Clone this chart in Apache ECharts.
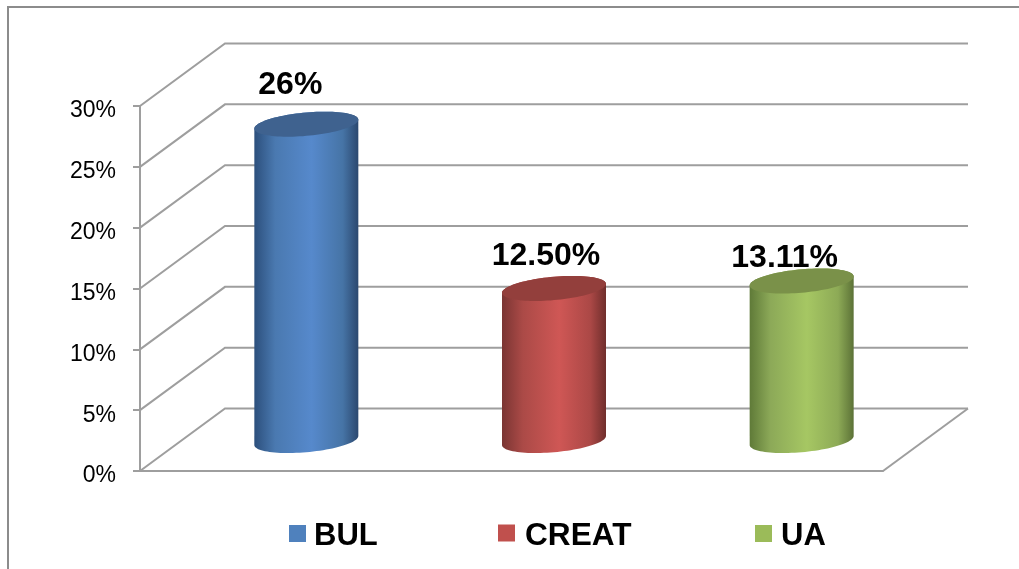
<!DOCTYPE html>
<html>
<head>
<meta charset="utf-8">
<style>html,body{margin:0;padding:0;background:#fff}#c{width:1019px;height:569px}</style>
<script src="https://cdn.jsdelivr.net/npm/echarts@6/dist/echarts.min.js"></script>
</head>
<body>
<div id="c"></div>
<script>
const categories = ['BUL', 'CREAT', 'UA'];
const values = [26, 12.5, 13.11];
const valueLabels = ['26%', '12.50%', '13.11%'];
const yTicks = [0, 5, 10, 15, 20, 25, 30];

const baseColors = ['#4f81bd', '#c0504d', '#9bbb59'];
const topColors = ['#3f628f', '#933f3c', '#7a9149'];
const sideStops = [
  ['#2c4f7c', '#4a79b0', '#5689cc', '#4674a6', '#2b486f'],
  ['#7a3533', '#ab4a47', '#cf5755', '#ab4846', '#702e2c'],
  ['#5f7a38', '#8ca958', '#a6c763', '#8daa56', '#5c7237']
];
const labelShift = [[-16, -39], [-8, -32], [-17, -23]];
const legendLeft = [289, 498, 755];
const legendTop = [521, 520, 521];
const legendTextGap = [3, 5, 4];
const legendFontSize = [31, 31.6, 31];

const depthX = 85, depthY = 62.5, barDrop = 30.5;
const rx = 52, ry = 11.7, skew = 4.5;
const gridColor = '#9e9e9e';
const font = '"Liberation Sans", Arial, sans-serif';

function ringPoint(cx, cy, t) {
  return [cx + rx * Math.cos(t), cy - skew * Math.cos(t) + ry * Math.sin(t)];
}
function cylinder(i) {
  return function (params, api) {
    const base = api.coord([api.value(0), 0]);
    const top = api.coord([api.value(0), api.value(1)]);
    const cx = base[0] + depthX / 2;
    const cyB = base[1] - barDrop;
    const cyT = top[1] - barDrop;
    const n = 48;
    const side = [], cap = [];
    for (let k = 0; k <= n; k++) side.push(ringPoint(cx, cyB, Math.PI * k / n));
    for (let k = 0; k <= n; k++) side.push(ringPoint(cx, cyT, Math.PI + Math.PI * k / n));
    for (let k = 0; k < n * 2; k++) cap.push(ringPoint(cx, cyT, Math.PI * k / n));
    const s = sideStops[i];
    const fill = new echarts.graphic.LinearGradient(0, 0, 1, 0, [
      { offset: 0, color: s[0] }, { offset: 0.2, color: s[1] }, { offset: 0.55, color: s[2] },
      { offset: 0.85, color: s[3] }, { offset: 1, color: s[4] }
    ]);
    return {
      type: 'group',
      children: [
        { type: 'polygon', shape: { points: side }, style: { fill: fill } },
        { type: 'polygon', shape: { points: cap }, style: { fill: topColors[i] } },
        { type: 'text', style: {
            text: valueLabels[i], x: cx + labelShift[i][0], y: cyT + labelShift[i][1],
            align: 'center', verticalAlign: 'middle',
            fontFamily: font, fontWeight: 'bold', fontSize: 32, fill: '#000'
        } }
      ]
    };
  };
}
function wallLine(params, api) {
  const c = params.coordSys;
  const y = api.coord([0, api.value(0)])[1];
  const x0 = c.x, x1 = c.x + c.width;
  return {
    type: 'polyline',
    shape: { points: [[x0, y], [x0 + depthX, y - depthY], [x1 + depthX, y - depthY]] },
    style: { fill: 'none', stroke: gridColor, lineWidth: 2 }
  };
}
function floorEdge(params) {
  const c = params.coordSys;
  const x1 = c.x + c.width, y = c.y + c.height;
  return {
    type: 'line',
    shape: { x1: x1, y1: y, x2: x1 + depthX, y2: y - depthY },
    style: { stroke: gridColor, lineWidth: 2 }
  };
}

const chart = echarts.init(document.getElementById('c'), null, { renderer: 'canvas' });
chart.setOption({
  animation: false,
  backgroundColor: '#fff',
  graphic: [{
    type: 'polyline', silent: true, z: 0,
    shape: { points: [[8, 569], [8, 7], [1019, 7]] },
    style: { fill: 'none', stroke: '#8c8c8c', lineWidth: 2 }
  }],
  grid: { left: 140, top: 106, width: 743, height: 365 },
  legend: categories.map((name, i) => ({
    data: [name], left: legendLeft[i], top: legendTop[i], padding: 0,
    itemWidth: 17, itemHeight: 17,
    icon: 'rect',
    selectedMode: false,
    formatter: '{t|{name}}',
    textStyle: {
      rich: { t: { fontFamily: font, fontWeight: 'bold', fontSize: legendFontSize[i], fill: '#000', color: '#000', padding: [6, 0, 0, legendTextGap[i]] } }
    }
  })),
  xAxis: {
    type: 'category', data: categories,
    axisLine: { lineStyle: { color: gridColor, width: 2 } },
    axisTick: { show: false }, axisLabel: { show: false }
  },
  yAxis: {
    type: 'value', min: 0, max: 30, interval: 5,
    axisLine: { show: true, lineStyle: { color: gridColor, width: 2 } },
    axisTick: { show: true, length: 7, lineStyle: { color: gridColor, width: 2 } },
    axisLabel: {
      margin: 24, formatter: '{t|{value}%}',
      rich: { t: { fontFamily: font, fontSize: 23, color: '#000', padding: [10, 0, 0, 0] } }
    },
    splitLine: { show: false }
  },
  series: [
    { type: 'custom', name: 'walls', silent: true, z: 1, data: yTicks.map(v => [v]), encode: { y: 0 }, renderItem: wallLine },
    { type: 'custom', name: 'floor', silent: true, z: 1, data: [[0]], encode: { y: 0 }, renderItem: floorEdge }
  ].concat(categories.map((name, i) => ({
    type: 'custom', name: name, z: 3, silent: true,
    itemStyle: { color: baseColors[i] },
    data: [[i, values[i]]],
    encode: { x: 0, y: 1 },
    renderItem: cylinder(i)
  })))
});
</script>
</body>
</html>
